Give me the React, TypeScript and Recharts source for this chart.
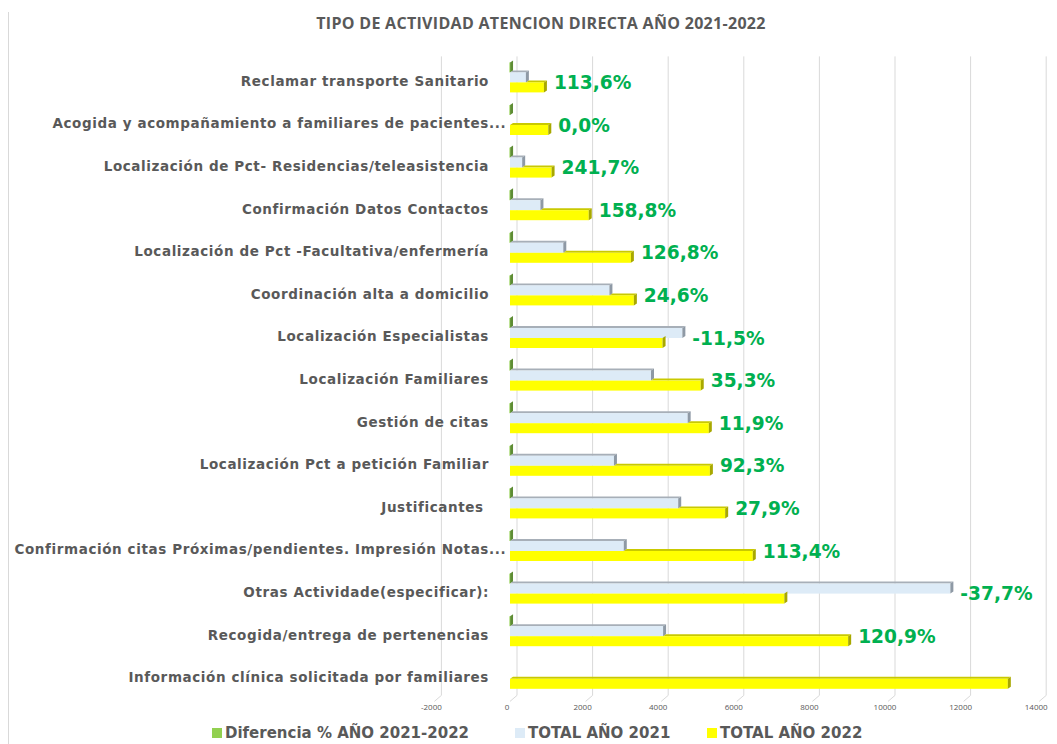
import React from "react";
import { BarChart, Bar, XAxis, YAxis, CartesianGrid, LabelList } from "recharts";

const categories = [
  "Reclamar transporte Sanitario",
  "Acogida y acompañamiento a familiares de pacientes...",
  "Localización de Pct- Residencias/teleasistencia",
  "Confirmación Datos Contactos",
  "Localización de Pct -Facultativa/enfermería",
  "Coordinación alta a domicilio",
  "Localización Especialistas",
  "Localización Familiares",
  "Gestión de citas",
  "Localización Pct a petición Familiar",
  "Justificantes\u00A0",
  "Confirmación citas Próximas/pendientes. Impresión Notas...",
  "Otras Actividade(especificar):",
  "Recogida/entrega de pertenencias",
  "Información clínica solicitada por familiares",
];
const total2021 = [420, null, 322, 805, 1410, 2630, 4560, 3730, 4700, 2750, 4450, 3010, 11650, 4050, null];
const total2022 = [897, 1013, 1100, 2083, 3198, 3277, 4036, 5046, 5260, 5288, 5692, 6423, 7258, 8946, 13170];
const diferencia = [1.136, 0.0, 2.417, 1.588, 1.268, 0.246, -0.115, 0.353, 0.119, 0.923, 0.279, 1.134, -0.377, 1.209, null];
const xTicks = [-2000, 0, 2000, 4000, 6000, 8000, 10000, 12000, 14000];

const data = categories.map((name, i) => ({
  name,
  dif: diferencia[i],
  t2021: total2021[i],
  t2022: total2022[i],
}));

const W = 1049;
const H = 736;
const MARGIN = { top: 48.4, right: 17.8, left: 0, bottom: 18.6 };
const Y_AXIS_W = 426.4;
const X_AXIS_H = 30;
const PLOT_BOTTOM = H - MARGIN.bottom - X_AXIS_H;
const X_MIN = -2000;
const X_MAX = 14000;
const DX = 3; // 3d depth of the bars
const DY = 2;
const BACK = 7; // back wall is shifted right of the bars
const CAT_RIGHT = 481;
const GREY = "#595959";
const BOLD_FONT = "'DejaVu Sans', Verdana, sans-serif";
const TITLE_FONT = "'Open Sans', sans-serif";

const pts = (p: number[][]) => p.map((q) => q.join(",")).join(" ");

const fmtPct = (v: number) => (v * 100).toFixed(1).replace(".", ",") + "%";

const GreenShape = (p: any) => {
  if (p.payload.dif == null) return null;
  const x = Math.max(p.x, p.x + p.width);
  const { y, height: h } = p;
  return (
    <g>
      <polygon points={pts([[x, y], [x + DX, y - DY], [x + DX, y + h - DY], [x, y + h]])} fill="#5E8C35" />
      <rect x={x - 0.6} y={y} width={0.8} height={h} fill="#92D050" />
    </g>
  );
};

const BlueShape = (p: any) => {
  if (p.payload.t2021 == null) return null;
  const { x, y, width: w, height: h } = p;
  return (
    <g>
      <polygon points={pts([[x, y], [x + DX, y - DY], [x + w + DX, y - DY], [x + w, y]])} fill="#A7AFB8" />
      <rect x={x} y={y} width={w} height={h} fill="#DDEBF7" />
      <polygon points={pts([[x + w, y], [x + w + DX, y - DY], [x + w + DX, y + h - DY], [x + w, y + h]])} fill="#8E99A5" />
    </g>
  );
};

const YellowShape = (p: any) => {
  const row = p.payload;
  if (row.t2022 == null) return null;
  const { x, y, width: w, height: h } = p;
  const s = row.t2021 ? x + Math.min(w, (w * row.t2021) / row.t2022) : x;
  return (
    <g>
      {s < x + w && (
        <polygon points={pts([[s, y], [s + DX, y - DY], [x + w + DX, y - DY], [x + w, y]])} fill="#C9C900" />
      )}
      <rect x={x} y={y} width={w} height={h} fill="#FFFF00" />
      <polygon points={pts([[x + w, y], [x + w + DX, y - DY], [x + w + DX, y + h - DY], [x + w, y + h]])} fill="#A8A800" />
    </g>
  );
};

const PctLabel = (p: any) => {
  const row = data[p.index];
  if (!row || row.dif == null) return null;
  const x = Number(p.x);
  const w = Number(p.width);
  const y = Number(p.y);
  const perUnit = w / row.t2022;
  const end = x + Math.max(row.t2022, row.t2021 ?? 0) * perUnit;
  return (
    <text
      x={end + DX + 7}
      y={y}
      dominantBaseline="central"
      fontFamily={BOLD_FONT}
      fontWeight="bold"
      fontSize={18.6}
      fill="#00B050"
    >
      {fmtPct(row.dif)}
    </text>
  );
};

const YTick = (p: any) => {
  const label = String(p.payload.value);
  const cut = label.endsWith("...");
  const main = cut ? label.slice(0, -3) : label;
  const common = {
    y: p.y + 3,
    dominantBaseline: "central" as const,
    fontFamily: BOLD_FONT,
    fontWeight: "bold",
    fontSize: 13.5,
    letterSpacing: 0.6,
    fill: GREY,
  };
  return (
    <g>
      <text x={CAT_RIGHT} textAnchor="end" style={{ whiteSpace: "pre" }} {...common}>
        {main}
      </text>
      {cut && (
        <text x={CAT_RIGHT} textAnchor="start" {...common}>
          ...
        </text>
      )}
    </g>
  );
};

const XTick = (p: any) => {
  const { x, payload } = p;
  return (
    <g>
      <line x1={x + BACK} y1={PLOT_BOTTOM} x2={x} y2={PLOT_BOTTOM + 6} stroke="#D9D9D9" />
      <text x={x - 3} y={PLOT_BOTTOM + 15} textAnchor="middle" fontSize={8} fontFamily={TITLE_FONT} fill={GREY}>
        {payload.value}
      </text>
    </g>
  );
};

const gridX = ({ offset }: any) =>
  xTicks.map((t) => offset.left + ((t - X_MIN) / (X_MAX - X_MIN)) * offset.width + BACK);

const legendItems = [
  { label: "Diferencia % AÑO 2021-2022", color: "#92D050", left: 204 },
  { label: "TOTAL AÑO 2021", color: "#DDEBF7", left: 507 },
  { label: "TOTAL AÑO 2022", color: "#FFFF00", left: 699 },
];

export default function App() {
  return (
    <div style={{ position: "relative", width: W, height: H }}>
      <div style={{ position: "absolute", left: 0, top: 4, width: 1, height: H - 4, background: "#D9D9D9" }} />
      <div
        style={{
          position: "absolute",
          left: 533,
          top: 4,
          transform: "translateX(-50%)",
          whiteSpace: "nowrap",
          fontFamily: TITLE_FONT,
          fontWeight: 700,
          fontSize: 16,
          letterSpacing: 0.3,
          color: GREY,
        }}
      >
        TIPO DE ACTIVIDAD ATENCION DIRECTA AÑO 2021-2022
      </div>
      <BarChart
        width={W}
        height={H}
        data={data}
        layout="vertical"
        margin={MARGIN}
        barSize={10}
        barGap={0}
      >
        <CartesianGrid horizontal={false} stroke="#D9D9D9" verticalCoordinatesGenerator={gridX} />
        <XAxis
          type="number"
          domain={[X_MIN, X_MAX]}
          ticks={xTicks}
          height={X_AXIS_H}
          axisLine={false}
          tickLine={false}
          tick={<XTick />}
          interval={0}
        />
        <YAxis
          type="category"
          dataKey="name"
          width={Y_AXIS_W}
          axisLine={false}
          tickLine={false}
          tick={<YTick />}
          interval={0}
        />
        <Bar dataKey="dif" name="Diferencia % AÑO 2021-2022" fill="#92D050" shape={GreenShape} isAnimationActive={false} />
        <Bar dataKey="t2021" name="TOTAL AÑO 2021" fill="#DDEBF7" shape={BlueShape} isAnimationActive={false} />
        <Bar dataKey="t2022" name="TOTAL AÑO 2022" fill="#FFFF00" shape={YellowShape} isAnimationActive={false}>
          <LabelList dataKey="dif" content={PctLabel} />
        </Bar>
      </BarChart>
      {legendItems.map((it) => (
        <div
          key={it.label}
          style={{
            position: "absolute",
            left: it.left,
            top: 716,
            display: "flex",
            alignItems: "center",
            fontFamily: BOLD_FONT,
            fontWeight: 700,
            fontSize: 15,
            color: GREY,
            whiteSpace: "nowrap",
          }}
        >
          <span style={{ display: "inline-block", width: 10, height: 10, background: it.color, marginRight: 3 }} />
          {it.label}
        </div>
      ))}
    </div>
  );
}
